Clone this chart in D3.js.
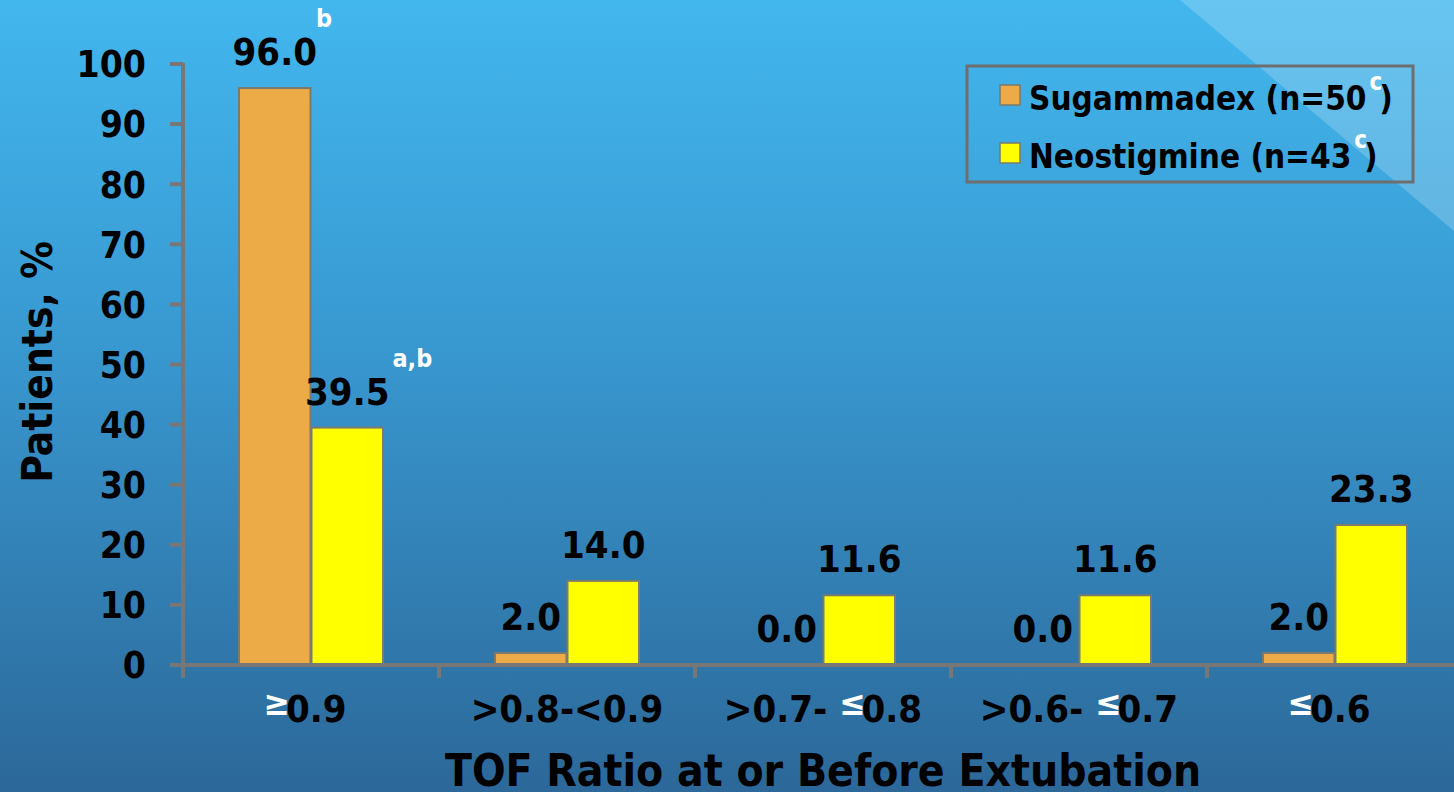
<!DOCTYPE html>
<html>
<head>
<meta charset="utf-8">
<script src="https://cdn.jsdelivr.net/npm/d3@7"></script>
<style>
  html, body { margin: 0; padding: 0; overflow: hidden; background: #2c6a9c; }
  svg { display: block; }
</style>
</head>
<body>
<svg id="chart" width="1454" height="792"></svg>
<script>
// TOF ratio categories and the share of patients (%) in each
const categories = ["≥0.9", ">0.8-<0.9", ">0.7-≤0.8", ">0.6-≤0.7", "≤0.6"];
// category labels split into black text and a white comparison sign
const catPrefix = ["", ">0.8-<0.9", ">0.7- ", ">0.6- ", ""];
const catSign   = ["≥", "", "≤", "≤", "≤"];
const catSuffix = ["0.9", "", "0.8", "0.7", "0.6"];

const seriesNames = ["Sugammadex", "Neostigmine"];
const seriesN = [50, 43];
const sugammadex  = [96.0, 2.0, 0.0, 0.0, 2.0];
const neostigmine = [39.5, 14.0, 11.6, 11.6, 23.3];
const sugNotes = ["b", "", "", "", ""];
const neoNotes = ["a,b", "", "", "", ""];
const yTicks = [0, 10, 20, 30, 40, 50, 60, 70, 80, 90, 100];

const colors = { Sugammadex: "#ecab46", Neostigmine: "#ffff00" };
const FONT = '"DejaVu Sans Condensed", "DejaVu Sans", sans-serif';

const W = 1454, H = 792;
const svg = d3.select("#chart");

// background: vertical blue gradient plus a light diagonal sheen top-right
const defs = svg.append("defs");
const bg = defs.append("linearGradient").attr("id", "bg")
  .attr("x1", 0).attr("y1", 0).attr("x2", 0).attr("y2", 1);
bg.append("stop").attr("offset", "0%").attr("stop-color", "#42b7ee");
bg.append("stop").attr("offset", "45%").attr("stop-color", "#3897cf");
bg.append("stop").attr("offset", "100%").attr("stop-color", "#2c6899");
svg.append("rect").attr("width", W).attr("height", H).attr("fill", "url(#bg)");
svg.append("path")
  .attr("d", "M1180,0 L1454,0 L1454,231 Z")
  .attr("fill", "#ffffff").attr("fill-opacity", 0.2);

// scales
const x0 = d3.scaleBand().domain(categories).range([183, 1463]).padding(0);
const half = 72.5;
const x1 = d3.scaleBand().domain(seriesNames)
  .range([x0.bandwidth() / 2 - half, x0.bandwidth() / 2 + half]).padding(0);
const y = d3.scaleLinear().domain([0, 100]).range([665, 64]);

const axisColor = "#777777";
const g = svg.append("g");

// bars
const data = categories.map((c, i) => ({
  cat: c,
  values: [
    { s: "Sugammadex", v: sugammadex[i], note: sugNotes[i] },
    { s: "Neostigmine", v: neostigmine[i], note: neoNotes[i] }
  ]
}));

const groups = g.selectAll("g.grp").data(data).join("g")
  .attr("class", "grp")
  .attr("transform", d => `translate(${x0(d.cat)},0)`);

groups.selectAll("rect").data(d => d.values).join("rect")
  .attr("x", d => x1(d.s) + 0.5)
  .attr("width", x1.bandwidth() - 1)
  .attr("y", d => y(d.v))
  .attr("height", d => y(0) - y(d.v))
  .attr("fill", d => colors[d.s])
  .attr("stroke", "#7a7a6e")
  .attr("stroke-width", 2);

// value labels with footnote markers
groups.each(function (d) {
  const grp = d3.select(this);
  d.values.forEach(p => {
    const cx = x1(p.s) + x1.bandwidth() / 2;
    const t = grp.append("text")
      .attr("x", cx).attr("y", y(p.v) - 23)
      .attr("text-anchor", "middle")
      .attr("font-family", FONT).attr("font-weight", "bold")
      .attr("font-size", 38).attr("fill", "#000")
      .text(p.v.toFixed(1));
    if (p.note) {
      const w = t.node().getComputedTextLength();
      grp.append("text")
        .attr("x", cx + w / 2 + (p.note.length > 1 ? 3 : -1))
        .attr("y", y(p.v) - 23 - 38)
        .attr("font-family", FONT).attr("font-size", 25)
        .attr("font-weight", "bold")
        .attr("fill", "#ffffff")
        .text(p.note);
    }
  });
});

// axes
const axes = svg.append("g").attr("stroke", axisColor).attr("stroke-width", 4);
// y axis line (runs slightly below the baseline)
axes.append("line").attr("x1", 183).attr("x2", 183).attr("y1", y(100) - 1).attr("y2", y(0) + 13);
// y ticks
axes.selectAll("line.yt").data(yTicks).join("line").attr("class", "yt")
  .attr("x1", 170).attr("x2", 183).attr("y1", d => y(d)).attr("y2", d => y(d));
// x axis line
axes.append("line").attr("x1", 170).attr("x2", x0.range()[1]).attr("y1", y(0)).attr("y2", y(0));
// x ticks at category boundaries
const bounds = categories.map(c => x0(c)).concat([x0.range()[1]]);
axes.selectAll("line.xt").data(bounds.slice(1)).join("line").attr("class", "xt")
  .attr("x1", d => d).attr("x2", d => d).attr("y1", y(0)).attr("y2", y(0) + 13);

// y tick labels
svg.append("g").selectAll("text").data(yTicks).join("text")
  .attr("x", 146).attr("y", d => y(d)).attr("dy", "0.36em")
  .attr("text-anchor", "end")
  .attr("font-family", FONT).attr("font-weight", "bold")
  .attr("font-size", 37).attr("fill", "#000")
  .text(d => d);

// category labels
const catG = svg.append("g");
categories.forEach((c, i) => {
  const leadingSign = !catPrefix[i] && catSign[i];
  const t = catG.append("text")
    .attr("x", x0(c) + x0.bandwidth() / 2 + (leadingSign ? -6 : 0))
    .attr("y", 722)
    .attr("text-anchor", "middle")
    .attr("font-family", FONT).attr("font-weight", "bold")
    .attr("font-size", 38).attr("fill", "#000");
  if (catPrefix[i]) t.append("tspan").text(catPrefix[i]);
  if (catSign[i]) {
    t.append("tspan").attr("fill", "#ffffff").attr("font-size", 35)
      .attr("dy", -7).text(catSign[i]);
    t.append("tspan").attr("dy", 7).attr("dx", -4).text(catSuffix[i]);
  }
});

// axis titles
svg.append("text")
  .attr("x", x0.range()[0] + (x0.range()[1] - x0.range()[0]) / 2)
  .attr("y", 786)
  .attr("text-anchor", "middle")
  .attr("font-family", FONT).attr("font-weight", "bold")
  .attr("font-size", 44).attr("fill", "#000")
  .text("TOF Ratio at or Before Extubation");

svg.append("text")
  .attr("transform", "translate(52,362) rotate(-90)")
  .attr("text-anchor", "middle")
  .attr("font-family", FONT).attr("font-weight", "bold")
  .attr("font-size", 42).attr("fill", "#000")
  .text("Patients, %");

// legend
const lg = svg.append("g");
lg.append("rect").attr("x", 967).attr("y", 66).attr("width", 446).attr("height", 116)
  .attr("fill", "none").attr("stroke", "#6e6e6e").attr("stroke-width", 3);
seriesNames.forEach((s, i) => {
  const cy = 95 + i * 58;
  lg.append("rect").attr("x", 1000).attr("y", cy - 10).attr("width", 20).attr("height", 20)
    .attr("fill", colors[s]).attr("stroke", "#7a7a6e").attr("stroke-width", 1.5);
  const t = lg.append("text").attr("x", 1029).attr("y", cy + 15)
    .attr("font-family", FONT).attr("font-weight", "bold")
    .attr("font-size", 33).attr("fill", "#000");
  t.append("tspan").text(`${s} (n=${seriesN[i]}`);
  t.append("tspan").attr("fill", "#ffffff").attr("font-size", 24)
    .attr("dx", 3).attr("dy", -20).text("c");
  t.append("tspan").attr("dy", 20).attr("dx", -3).text(")");
});
</script>
</body>
</html>
